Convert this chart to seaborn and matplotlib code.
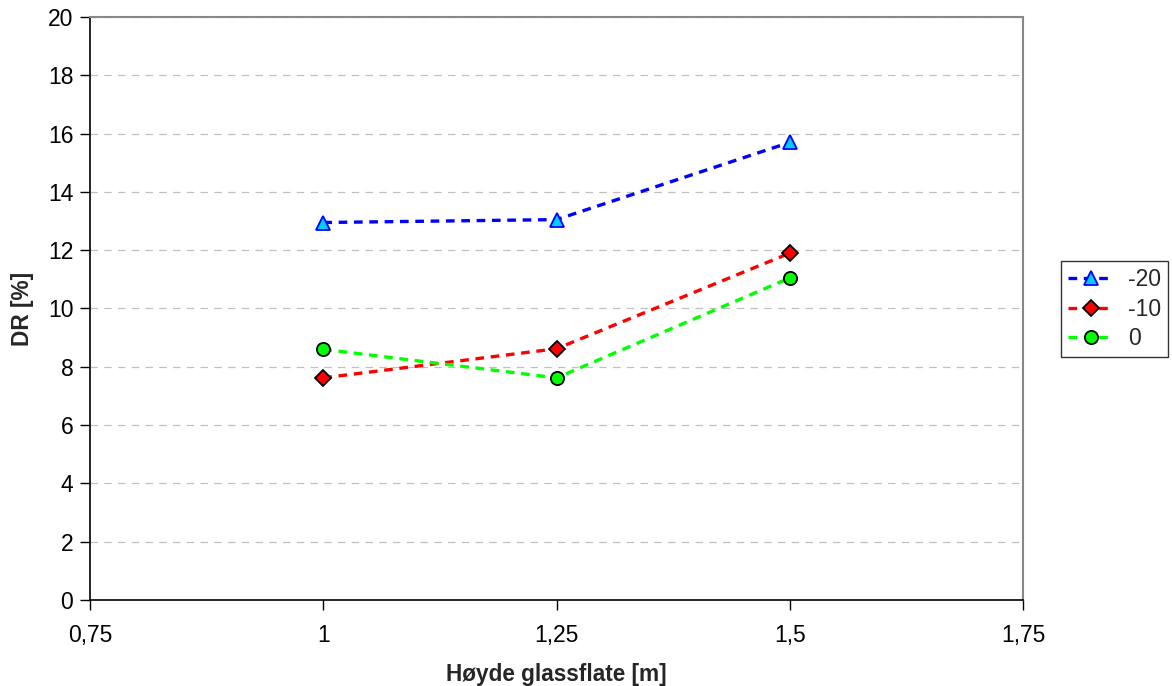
import pandas as pd
import matplotlib
matplotlib.use("Agg")
import matplotlib.pyplot as plt
from matplotlib.ticker import FuncFormatter, MultipleLocator
import seaborn as sns

sns.set_style("white")
plt.rcParams["font.family"] = ["Liberation Sans", "DejaVu Sans"]

# data
heights = [1.0, 1.25, 1.5]
series_labels = ["-20", "-10", "0"]
dr_m20 = [12.95, 13.05, 15.7]
dr_m10 = [7.62, 8.62, 11.9]
dr_0 = [8.6, 7.62, 11.05]

line_colors = ["#0000ff", "#ff0000", "#00ff00"]
face_colors = ["#00ccff", "#ff0000", "#00ff00"]
edge_colors = ["#0000ff", "#000000", "#000000"]
markers = ["^", "D", "o"]
marker_sizes = [9.5, 8.5, 9.5]

fig = plt.figure(figsize=(11.72, 6.86), dpi=100)
ax = fig.add_axes([0.0768, 0.1254, 0.7962, 0.8498])

for vals, lab, lc, fc, ec, mk, ms in zip([dr_m20, dr_m10, dr_0], series_labels,
                                          line_colors, face_colors, edge_colors,
                                          markers, marker_sizes):
    df = pd.DataFrame({"h": heights, "dr": vals})
    sns.lineplot(data=df, x="h", y="dr", ax=ax, color=lc, label=lab,
                 linestyle=(0, (2.6, 2.0)), linewidth=2.4,
                 marker=mk, markersize=ms, markerfacecolor=fc,
                 markeredgecolor=ec, markeredgewidth=1.3)

ax.set_xlim(0.75, 1.75)
ax.set_ylim(0, 20)
ax.xaxis.set_major_locator(MultipleLocator(0.25))
ax.yaxis.set_major_locator(MultipleLocator(2))
ax.xaxis.set_major_formatter(FuncFormatter(lambda v, p: f"{v:g}".replace(".", ",")))
ax.yaxis.set_major_formatter(FuncFormatter(lambda v, p: f"{v:g}"))

ax.yaxis.grid(True, color="#c0c0c0", linestyle=(0, (6, 5)), linewidth=0.9)
ax.set_axisbelow(True)

for side in ["left", "bottom"]:
    ax.spines[side].set_color("black")
    ax.spines[side].set_linewidth(1.2)
for side in ["top", "right"]:
    ax.spines[side].set_color("#888888")
    ax.spines[side].set_linewidth(1.5)

ax.tick_params(axis="both", labelsize=16.5, direction="out", length=7,
               width=1, colors="black", left=True, bottom=True)
ax.tick_params(axis="x", pad=10)
ax.tick_params(axis="y", pad=5)

ax.set_xlabel("Høyde glassflate [m]", fontsize=16.3, fontweight="bold", labelpad=12)
ax.set_ylabel("DR [%]", fontsize=16.3, fontweight="bold", labelpad=10)

leg = ax.legend(loc="center left", bbox_to_anchor=(1.041, 0.499), fontsize=16.5,
                frameon=True, fancybox=False, edgecolor="black",
                handlelength=2.0, handletextpad=0.6, borderpad=0.3,
                labelspacing=0.28, borderaxespad=0)
leg.get_frame().set_linewidth(1.0)

fig.savefig("out.png", dpi=100)
